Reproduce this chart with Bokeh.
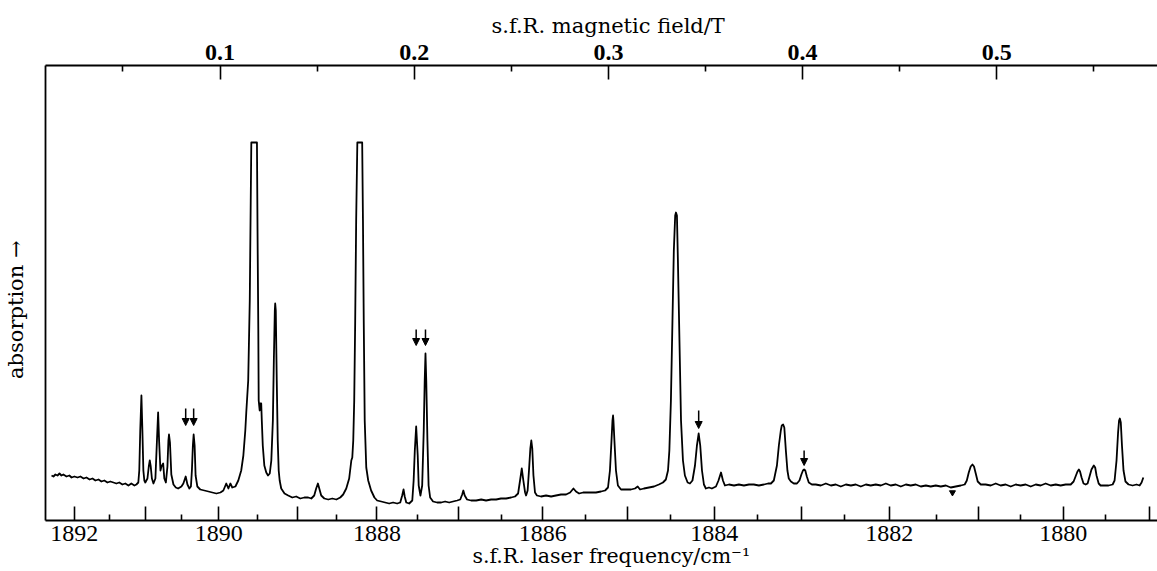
from bokeh.plotting import figure
from bokeh.models import Range1d, LinearAxis, FixedTicker, Arrow, NormalHead, ColumnDataSource
from bokeh.embed import file_html
from bokeh.resources import INLINE

# ---------------- data ----------------
# spectrum trace: x = s.f.R. magnetic field (T), y = absorption (arbitrary units)
field_T = [
    0.0132, 0.0142, 0.0152, 0.0163, 0.0173, 0.0183, 0.0193, 0.0209, 0.0224, 0.0235,
    0.0250, 0.0266, 0.0281, 0.0297, 0.0312, 0.0328, 0.0343, 0.0358, 0.0374, 0.0389,
    0.0404, 0.0420, 0.0435, 0.0451, 0.0466, 0.0481, 0.0497, 0.0512, 0.0528, 0.0543,
    0.0559, 0.0569, 0.0579, 0.0584, 0.0589, 0.0595, 0.0600, 0.0605, 0.0610, 0.0615,
    0.0626, 0.0633, 0.0638, 0.0643, 0.0649, 0.0657, 0.0667, 0.0675, 0.0681, 0.0686,
    0.0693, 0.0698, 0.0707, 0.0713, 0.0721, 0.0729, 0.0734, 0.0737, 0.0742, 0.0749,
    0.0760, 0.0772, 0.0784, 0.0801, 0.0811, 0.0823, 0.0832, 0.0842, 0.0850, 0.0855,
    0.0860, 0.0864, 0.0869, 0.0874, 0.0883, 0.0898, 0.0919, 0.0940, 0.0960, 0.0981,
    0.1002, 0.1017, 0.1032, 0.1043, 0.1053, 0.1063, 0.1079, 0.1094, 0.1109, 0.1120,
    0.1130, 0.1135, 0.1145, 0.1153, 0.1158, 0.1161, 0.1190, 0.1193, 0.1197, 0.1199,
    0.1204, 0.1207, 0.1212, 0.1215, 0.1220, 0.1228, 0.1238, 0.1247, 0.1256, 0.1264,
    0.1272, 0.1277, 0.1282, 0.1284, 0.1287, 0.1292, 0.1297, 0.1302, 0.1307, 0.1315,
    0.1332, 0.1351, 0.1372, 0.1392, 0.1413, 0.1434, 0.1454, 0.1470, 0.1485, 0.1495,
    0.1504, 0.1511, 0.1521, 0.1537, 0.1557, 0.1578, 0.1599, 0.1619, 0.1634, 0.1650,
    0.1665, 0.1676, 0.1681, 0.1686, 0.1691, 0.1696, 0.1701, 0.1707, 0.1732, 0.1736,
    0.1740, 0.1745, 0.1753, 0.1763, 0.1778, 0.1795, 0.1809, 0.1830, 0.1850, 0.1871,
    0.1891, 0.1912, 0.1928, 0.1938, 0.1945, 0.1951, 0.1959, 0.1974, 0.1990, 0.1997,
    0.2003, 0.2010, 0.2018, 0.2023, 0.2032, 0.2041, 0.2049, 0.2054, 0.2058, 0.2062,
    0.2068, 0.2074, 0.2082, 0.2097, 0.2118, 0.2139, 0.2159, 0.2180, 0.2200, 0.2221,
    0.2237, 0.2247, 0.2253, 0.2260, 0.2272, 0.2293, 0.2319, 0.2345, 0.2370, 0.2396,
    0.2422, 0.2447, 0.2473, 0.2499, 0.2519, 0.2535, 0.2545, 0.2554, 0.2562, 0.2571,
    0.2576, 0.2584, 0.2591, 0.2598, 0.2603, 0.2608, 0.2614, 0.2622, 0.2632, 0.2653,
    0.2679, 0.2705, 0.2730, 0.2756, 0.2782, 0.2803, 0.2820, 0.2833, 0.2849, 0.2870,
    0.2890, 0.2911, 0.2936, 0.2962, 0.2983, 0.2998, 0.3008, 0.3016, 0.3021, 0.3024,
    0.3026, 0.3031, 0.3039, 0.3049, 0.3065, 0.3091, 0.3116, 0.3137, 0.3151, 0.3163,
    0.3183, 0.3209, 0.3235, 0.3260, 0.3281, 0.3296, 0.3307, 0.3314, 0.3322, 0.3330,
    0.3337, 0.3344, 0.3348, 0.3353, 0.3358, 0.3366, 0.3374, 0.3384, 0.3394, 0.3408,
    0.3420, 0.3433, 0.3446, 0.3456, 0.3465, 0.3473, 0.3482, 0.3492, 0.3502, 0.3518,
    0.3533, 0.3554, 0.3567, 0.3580, 0.3590, 0.3600, 0.3621, 0.3647, 0.3672, 0.3698,
    0.3724, 0.3749, 0.3775, 0.3801, 0.3822, 0.3837, 0.3852, 0.3868, 0.3878, 0.3888,
    0.3893, 0.3900, 0.3906, 0.3914, 0.3922, 0.3929, 0.3940, 0.3955, 0.3971, 0.3984,
    0.3994, 0.4002, 0.4008, 0.4014, 0.4022, 0.4032, 0.4048, 0.4068, 0.4094, 0.4120,
    0.4146, 0.4171, 0.4197, 0.4223, 0.4249, 0.4274, 0.4300, 0.4326, 0.4351, 0.4377,
    0.4403, 0.4429, 0.4454, 0.4480, 0.4506, 0.4532, 0.4557, 0.4583, 0.4609, 0.4635,
    0.4660, 0.4686, 0.4712, 0.4738, 0.4763, 0.4789, 0.4815, 0.4835, 0.4846, 0.4856,
    0.4866, 0.4875, 0.4883, 0.4892, 0.4902, 0.4918, 0.4943, 0.4969, 0.4995, 0.5020,
    0.5046, 0.5072, 0.5098, 0.5123, 0.5149, 0.5175, 0.5201, 0.5226, 0.5252, 0.5278,
    0.5304, 0.5329, 0.5355, 0.5381, 0.5396, 0.5406, 0.5416, 0.5423, 0.5429, 0.5437,
    0.5447, 0.5458, 0.5468, 0.5478, 0.5488, 0.5500, 0.5507, 0.5514, 0.5525, 0.5535,
    0.5556, 0.5576, 0.5597, 0.5607, 0.5617, 0.5625, 0.5630, 0.5634, 0.5639, 0.5645,
    0.5653, 0.5663, 0.5679, 0.5700, 0.5720, 0.5736, 0.5746, 0.5755,
]
absorption = [
    45, 44, 46, 45, 47, 45, 46, 44, 45, 43,
    44, 43, 44, 42, 43, 41, 42, 40, 41, 39,
    40, 38, 39, 38, 37, 38, 36, 37, 35, 37,
    35, 36, 38, 50, 90, 125, 90, 50, 40, 38,
    42, 54, 60, 54, 42, 37, 42, 80, 108, 80,
    50, 54, 57, 42, 38, 54, 80, 86, 78, 46,
    36, 33, 32, 34, 37, 44, 36, 32, 34, 50,
    75, 86, 75, 45, 34, 31, 30, 29, 28, 27,
    28, 30, 37, 32, 37, 33, 34, 40, 50, 65,
    90, 108, 140, 220, 320, 378, 378, 290, 190, 120,
    110, 117, 117, 100, 75, 55, 48, 45, 47, 60,
    100, 160, 210, 217, 210, 140, 80, 50, 40, 32,
    27, 25, 23, 24, 22, 23, 23, 22, 25, 32,
    37, 32, 25, 22, 21, 22, 21, 23, 26, 32,
    42, 60, 63, 80, 120, 200, 300, 378, 378, 300,
    200, 100, 53, 40, 30, 23, 20, 19, 18, 17,
    18, 17, 18, 25, 31, 24, 18, 17, 20, 40,
    70, 94, 65, 35, 25, 35, 90, 140, 167, 140,
    80, 35, 23, 19, 18, 18, 19, 18, 19, 20,
    21, 26, 30, 25, 21, 20, 20, 21, 20, 21,
    21, 22, 22, 23, 24, 27, 40, 52, 40, 28,
    25, 30, 50, 72, 80, 72, 45, 28, 25, 24,
    25, 24, 25, 26, 26, 28, 32, 29, 27, 28,
    28, 28, 28, 29, 30, 33, 50, 80, 100, 105,
    100, 80, 50, 35, 31, 31, 31, 32, 34, 31,
    32, 33, 34, 36, 38, 41, 50, 70, 120, 200,
    270, 305, 308, 305, 260, 180, 100, 60, 45, 38,
    37, 40, 55, 75, 87, 75, 50, 36, 32, 33,
    32, 34, 40, 48, 40, 35, 36, 35, 36, 35,
    36, 36, 35, 36, 37, 37, 40, 55, 75, 90,
    95, 96, 93, 70, 50, 42, 39, 37, 37, 40,
    46, 50, 51, 50, 44, 38, 36, 36, 35, 37,
    35, 36, 34, 36, 35, 36, 34, 36, 35, 36,
    35, 37, 35, 36, 34, 36, 35, 36, 34, 35,
    34, 35, 34, 35, 33, 34, 35, 36, 40, 48,
    54, 56, 54, 47, 39, 36, 36, 35, 37, 35,
    36, 34, 36, 35, 36, 34, 36, 35, 37, 35,
    36, 35, 36, 36, 39, 44, 49, 51, 49, 43,
    37, 36, 37, 44, 51, 55, 53, 45, 37, 35,
    35, 35, 36, 40, 60, 88, 100, 102, 98, 75,
    50, 39, 36, 35, 36, 35, 38, 43,
]

# bottom axis: laser frequency (cm^-1) and where those ticks sit on the field scale (T)
freq_major = [1892, 1891, 1890, 1889, 1888, 1887, 1886, 1885, 1884, 1883, 1882, 1881, 1880, 1879]
freq_major_T = [0.0249, 0.0615, 0.0993, 0.1399, 0.1808, 0.2230, 0.2662, 0.3096, 0.3545,
                0.3995, 0.4446, 0.4906, 0.5343, 0.5787]
freq_minor_T = [0.0432, 0.0802, 0.1192, 0.1600, 0.2019, 0.2451, 0.2880, 0.3319, 0.3768,
                0.4218, 0.4689, 0.5123, 0.5562]

# top axis: magnetic field ticks (T)
field_major = [0.1, 0.2, 0.3, 0.4, 0.5]
field_labels = ["0.1", "0.2", "0.3", "0.4", "0.5"]
field_minor = [0.05, 0.15, 0.25, 0.35, 0.45, 0.55]

# marker arrows above selected lines
arrow_field = [0.0823, 0.0864, 0.2010, 0.2058, 0.3465, 0.4008]
arrow_tail = [112, 112, 191, 191, 110, 70]
arrow_tip = [95, 95, 175, 175, 92, 55]

# small inverted-triangle mark under the trace
mark_field = [0.4772]
mark_abs = [28]

# ---------------- figure ----------------
SERIF_NUM = "Liberation Serif"
SERIF_TXT = "DejaVu Serif"
NB = "\u00a0"

p = figure(width=1157, height=571, output_backend="svg", toolbar_location=None,
           x_range=Range1d(0.0101, 0.5828), y_range=Range1d(0, 455),
           x_axis_location=None, y_axis_location=None,
           min_border_left=44, min_border_right=0, min_border_top=65, min_border_bottom=51)
p.outline_line_color = None
p.background_fill_color = "white"
p.border_fill_color = "white"
p.xgrid.visible = False
p.ygrid.visible = False

# bottom axis (frequency)
xb = LinearAxis(ticker=FixedTicker(ticks=freq_major_T, minor_ticks=freq_minor_T))
xb.major_label_overrides = {t: (str(f) if f % 2 == 0 else "") for t, f in zip(freq_major_T, freq_major)}
xb.axis_label = NB * 3 + "s.f.R. laser frequency/cm\u207b\u00b9"
xb.axis_label_text_font = SERIF_TXT
xb.axis_label_text_font_size = "20.5px"
xb.axis_label_text_font_style = "normal"
xb.axis_label_text_color = "black"
xb.axis_label_standoff = 0
xb.major_label_text_font = SERIF_NUM
xb.major_label_text_font_size = "24px"
xb.major_label_text_color = "black"
xb.major_label_standoff = 5
xb.major_tick_in = 14
xb.major_tick_out = 0
xb.minor_tick_in = 6
xb.minor_tick_out = 0
p.add_layout(xb, "below")

# top axis (magnetic field)
xt = LinearAxis(ticker=FixedTicker(ticks=field_major, minor_ticks=field_minor))
xt.major_label_overrides = {t: s for t, s in zip(field_major, field_labels)}
xt.axis_label = NB * 2 + "s.f.R. magnetic field/T"
xt.axis_label_text_font = SERIF_TXT
xt.axis_label_text_font_size = "21px"
xt.axis_label_text_font_style = "normal"
xt.axis_label_text_color = "black"
xt.axis_label_standoff = 4
xt.major_label_text_font = SERIF_NUM
xt.major_label_text_font_size = "24px"
xt.major_label_text_font_style = "bold"
xt.major_label_text_color = "black"
xt.major_label_standoff = 6
xt.major_tick_in = 14
xt.major_tick_out = 0
xt.minor_tick_in = 6
xt.minor_tick_out = 0
p.add_layout(xt, "above")

# left axis (absorption, no ticks)
yl = LinearAxis(ticker=FixedTicker(ticks=[]))
yl.axis_label = "absorption \u2192" + NB * 5
yl.axis_label_text_font = SERIF_TXT
yl.axis_label_text_font_size = "21px"
yl.axis_label_text_font_style = "normal"
yl.axis_label_text_color = "black"
yl.axis_label_standoff = 18
yl.major_label_text_font_size = "0px"
yl.major_tick_line_color = None
yl.minor_tick_line_color = None
p.add_layout(yl, "left")

for ax in (xb, xt, yl):
    ax.axis_line_width = 1.8
    ax.axis_line_color = "black"
    ax.major_tick_line_width = 1.6
    ax.minor_tick_line_width = 1.6

# spectrum trace
p.line(field_T, absorption, line_color="black", line_width=1.8, line_join="round")

# arrows
asrc = ColumnDataSource(dict(x=arrow_field, y0=arrow_tail, y1=arrow_tip))
p.add_layout(Arrow(x_start="x", y_start="y0", x_end="x", y_end="y1", source=asrc,
                   line_color="black", line_width=1.5,
                   end=NormalHead(size=7, fill_color="black", line_color="black", line_width=1)))

# small mark
p.scatter(mark_field, mark_abs, marker="inverted_triangle", size=6, color="black")

open("out.html", "w").write(file_html(p, INLINE))
